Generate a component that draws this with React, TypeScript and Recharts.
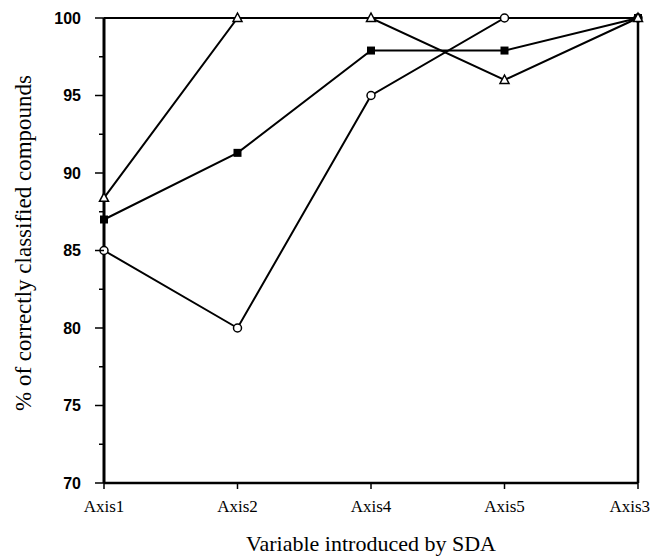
import { CartesianGrid, Label, Line, LineChart, ReferenceLine, XAxis, YAxis } from 'recharts';

const categories = ['Axis1', 'Axis2', 'Axis4', 'Axis5', 'Axis3'];
const triangleValues = [88.4, 100, 100, 96, 100];
const squareValues = [87, 91.3, 97.9, 97.9, 100];
const circleValues = [85, 80, 95, 100, 100];
const yTicks = [70, 72.5, 75, 77.5, 80, 82.5, 85, 87.5, 90, 92.5, 95, 97.5, 100];

const data = categories.map((name, i) => ({
  name,
  triangle: triangleValues[i],
  square: squareValues[i],
  circle: circleValues[i],
}));

const serif = { fontFamily: "'Liberation Serif', 'Times New Roman', serif" };
const sansBold = { fontFamily: "'Liberation Sans', Arial, sans-serif", fontWeight: 'bold' as const };

const YTick = (props: any) => {
  const { x, y, payload } = props;
  const major = payload.value % 5 === 0;
  return (
    <g>
      <line x1={x - (major ? 9 : 5)} x2={x} y1={y} y2={y} stroke="#000" strokeWidth={1.5} />
      {major && (
        <text x={x - 23} y={y} dy="0.35em" textAnchor="end" fontSize={16} fill="#000" style={sansBold}>
          {payload.value}
        </text>
      )}
    </g>
  );
};

const XTick = (props: any) => {
  const { x, y, payload, index } = props;
  const last = index === categories.length - 1;
  return (
    <g>
      <line x1={x} x2={x} y1={y} y2={y + 6} stroke="#000" strokeWidth={1.5} />
      <text
        x={last ? x + 12 : x}
        y={y + 29}
        textAnchor={last ? 'end' : 'middle'}
        fontSize={17}
        fill="#000"
        style={serif}
      >
        {payload.value}
      </text>
    </g>
  );
};

const Triangle = (props: any) => {
  const { cx, cy } = props;
  if (cx == null || cy == null) return null;
  return (
    <path
      d={`M${cx},${cy - 5} L${cx + 4.5},${cy + 3.5} L${cx - 4.5},${cy + 3.5} Z`}
      fill="#fff"
      stroke="#000"
      strokeWidth={1.5}
    />
  );
};

const Square = (props: any) => {
  const { cx, cy } = props;
  if (cx == null || cy == null) return null;
  return <rect x={cx - 4} y={cy - 4} width={8} height={8} fill="#000" />;
};

const Circle = (props: any) => {
  const { cx, cy } = props;
  if (cx == null || cy == null) return null;
  return <circle cx={cx} cy={cy} r={4} fill="#fff" stroke="#000" strokeWidth={1.5} />;
};

export default function App() {
  return (
    <div style={{ position: 'absolute', left: 0, top: 0, background: '#fff' }}>
      <LineChart width={650} height={558} data={data} margin={{ top: 18, right: 12, left: 0, bottom: 0 }}>
        <CartesianGrid stroke="none" />
        <XAxis
          dataKey="name"
          height={75}
          stroke="#000"
          strokeWidth={2.5}
          tickLine={false}
          tickSize={0}
          tickMargin={0}
          tick={<XTick />}
          interval={0}
        >
          <Label
            content={() => (
              <text x={371} y={551} textAnchor="middle" fontSize={22} fill="#000" style={serif}>
                Variable introduced by SDA
              </text>
            )}
          />
        </XAxis>
        <YAxis
          width={104}
          domain={[70, 100]}
          ticks={yTicks}
          stroke="#000"
          strokeWidth={3}
          tickLine={false}
          tickSize={0}
          tickMargin={0}
          tick={<YTick />}
          interval={0}
        >
          <Label
            content={() => (
              <text
                x={31}
                y={243}
                transform="rotate(-90 31 243)"
                textAnchor="middle"
                fontSize={23}
                fill="#000"
                style={serif}
              >
                % of correctly classified compounds
              </text>
            )}
          />
        </YAxis>
        <ReferenceLine y={100} stroke="#000" strokeWidth={2} />
        <ReferenceLine x="Axis3" stroke="#000" strokeWidth={2.5} />
        <Line
          type="linear"
          dataKey="circle"
          stroke="#000"
          strokeWidth={2}
          dot={<Circle />}
          activeDot={false}
          isAnimationActive={false}
        />
        <Line
          type="linear"
          dataKey="square"
          stroke="#000"
          strokeWidth={2}
          dot={<Square />}
          activeDot={false}
          isAnimationActive={false}
        />
        <Line
          type="linear"
          dataKey="triangle"
          stroke="#000"
          strokeWidth={2}
          dot={<Triangle />}
          activeDot={false}
          isAnimationActive={false}
        />
      </LineChart>
    </div>
  );
}
